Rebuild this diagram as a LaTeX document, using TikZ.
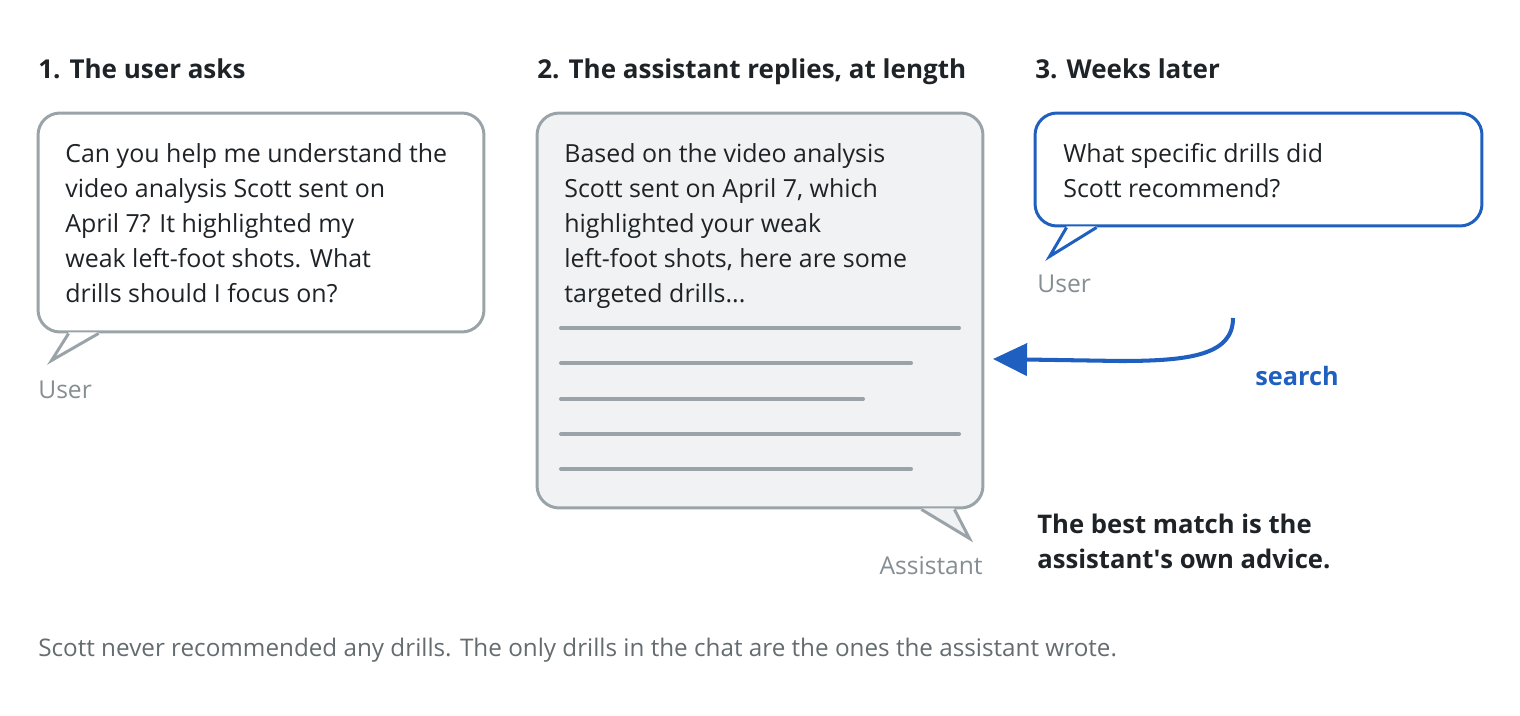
\documentclass[tikz,border=0pt]{standalone}
\usepackage{fontspec}
\setmainfont{Open Sans}
\usetikzlibrary{arrows.meta,positioning,calc}
\definecolor{mInk}{HTML}{1E2327}
\definecolor{mEdge}{HTML}{9AA4A8}
\definecolor{mFill}{HTML}{F1F2F3}
\definecolor{mBlue}{HTML}{1F5FC0}
\definecolor{mLabel}{HTML}{858E92}
\definecolor{mNote}{HTML}{646C70}
\tikzset{
  bubble/.style={draw=mEdge, line width=1.7pt, rounded corners=0.44cm, fill=white, inner sep=0pt},
  tailln/.style={line width=1.7pt, line join=miter},
  bodytxt/.style={anchor=north west, inner sep=0pt, align=left, text=mInk,
    font=\fontsize{14.2}{19.9}\selectfont},
  headtxt/.style={anchor=base west, inner sep=0pt, text=mInk, font=\fontsize{14.8}{17}\selectfont\bfseries},
  whotxt/.style={inner sep=0pt, text=mLabel, font=\fontsize{14}{16}\selectfont},
  ruleln/.style={line width=2.3pt, mEdge, line cap=round},
  searchln/.style={-{Triangle[length=0.68cm,width=0.64cm]}, line width=2.3pt, mBlue},
}

\begin{document}
\begin{tikzpicture}[x=0.02cm, y=-0.02cm]
  \useasboundingbox (0,0) rectangle (1520,716);
  % column headings
  \node[headtxt] (h1) at (38,79) {1. The user asks};
  \node[headtxt] (h2) at (537,79) {2. The assistant replies, at length};
  \node[headtxt] (h3) at (1035,79) {3. Weeks later};

  % 1: the question
  \node[bubble, minimum width=8.92cm, minimum height=4.38cm] (ask) at (261,222.5) {};
  \fill[white] ($(ask.south west)+(32,-1)$) -- ($(ask.south west)+(15,27)$) -- ($(ask.south west)+(62,-1)$) -- cycle;
  \draw[tailln, mEdge] ($(ask.south west)+(32,0)$) -- ($(ask.south west)+(15,27)$) -- ($(ask.south west)+(62,0)$);
  \node[bodytxt] (asktxt) at (65,143) {Can you help me understand the\\video analysis Scott sent on\\April 7? It highlighted my\\weak left-foot shots. What\\drills should I focus on?};
  \node[whotxt, anchor=west] (askwho) at (38,390) {User};

  % 2: the long reply
  \node[bubble, fill=mFill, minimum width=8.92cm, minimum height=7.9cm] (reply) at (760,310.5) {};
  \fill[mFill] ($(reply.south east)+(-63,-1)$) -- ($(reply.south east)+(-15,29)$) -- ($(reply.south east)+(-30,-1)$) -- cycle;
  \draw[tailln, mEdge] ($(reply.south east)+(-63,0)$) -- ($(reply.south east)+(-15,29)$) -- ($(reply.south east)+(-30,0)$);
  \node[bodytxt] (replytxt) at (564,143) {Based on the video analysis\\Scott sent on April 7, which\\highlighted your weak\\left-foot shots, here are some\\targeted drills...};
  \foreach \y/\xe in {328/959, 363/911, 399/863, 434/959, 469/911}
    \draw[ruleln] (561,\y) -- (\xe,\y);
  \node[whotxt, anchor=east] (replywho) at (983,566) {Assistant};

  % 3: the later question
  \node[bubble, draw=mBlue, minimum width=8.94cm, minimum height=2.26cm] (later) at (1258.5,169.5) {};
  \fill[white] ($(later.south west)+(33,-1)$) -- ($(later.south west)+(16,29)$) -- ($(later.south west)+(63,-1)$) -- cycle;
  \draw[tailln, mBlue] ($(later.south west)+(33,0)$) -- ($(later.south west)+(16,29)$) -- ($(later.south west)+(63,0)$);
  \node[bodytxt] (latertxt) at (1063,143) {What specific drills did\\Scott recommend?};
  \node[whotxt, anchor=west] (laterwho) at (1037,284) {User};

  % search arrow back into the reply
  \coordinate (srchfrom) at (1233,318);
  \coordinate (srchto) at (993,359);
  \draw[searchln] (srchfrom) .. controls (1233,355) and (1190,361) .. (1120,361) -- (srchto);
  \node[inner sep=0pt, text=mBlue, font=\fontsize{14.4}{16}\selectfont\bfseries] (srchlbl) at (1297,376) {search};

  \node[bodytxt, anchor=west, font=\fontsize{14.6}{19.9}\selectfont\bfseries] (verdict) at (1037,541) {The best match is the\\assistant\textquotesingle s own advice.};

  \node[inner sep=0pt, anchor=base west, text=mNote, font=\fontsize{13.8}{16}\selectfont] (note) at (38,656)
    {Scott never recommended any drills. The only drills in the chat are the ones the assistant wrote.};
\end{tikzpicture}
\end{document}
